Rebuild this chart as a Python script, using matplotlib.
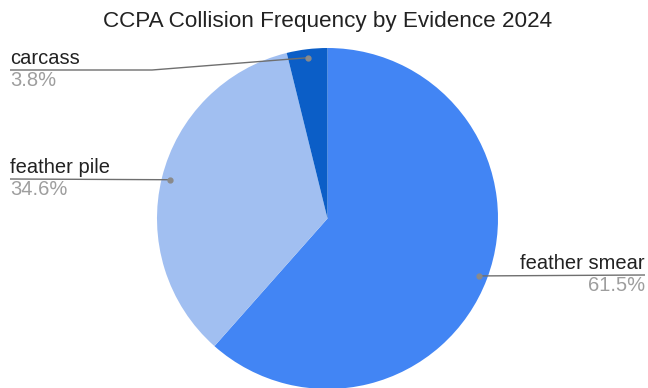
import numpy as np
import matplotlib
matplotlib.use("Agg")
import matplotlib.pyplot as plt

# ── Données ───────────────────────────────────────────────────────────────────
categories = ["feather smear", "feather pile", "carcass"]
counts = [16, 9, 1]
colors = ["#4285F4", "#A1BFF1", "#0B5EC7"]

W, H = 648, 388
CENTER = (327.5, H - 218.5)
RADIUS = 170.5

plt.rcParams["font.family"] = ["Liberation Sans", "DejaVu Sans"]

fig = plt.figure(figsize=(W / 100, H / 100), dpi=100)
ax = fig.add_axes([0, 0, 1, 1])

wedges, _ = ax.pie(
    counts, colors=colors, startangle=90, counterclock=False,
    center=CENTER, radius=RADIUS, frame=True,
    wedgeprops=dict(linewidth=0),
)
ax.set_xlim(0, W)
ax.set_ylim(0, H)
ax.set_aspect("equal")
ax.axis("off")

total = sum(counts)
pcts = [100 * c / total for c in counts]

# position des étiquettes (x du texte, y pixel du trait, alignement, coude)
label_layout = {
    "feather smear": dict(x=645, y=275, ha="right", elbow=None),
    "feather pile": dict(x=10, y=179, ha="left", elbow=None),
    "carcass": dict(x=10, y=70, ha="left", elbow=152),
}

line_color = "#6f6f6f"
for wedge, name, pct in zip(wedges, categories, pcts):
    mid = np.deg2rad((wedge.theta1 + wedge.theta2) / 2)
    px = CENTER[0] + 0.95 * RADIUS * np.cos(mid)
    py = CENTER[1] + 0.95 * RADIUS * np.sin(mid)
    lay = label_layout[name]
    ly = H - lay["y"]
    if lay["elbow"] is not None:
        xs = [lay["x"], lay["elbow"], px]
        ys = [ly, ly, py]
    else:
        xs = [lay["x"], px]
        ys = [ly, py]
    ax.plot(xs, ys, color=line_color, linewidth=1.0, solid_capstyle="butt")
    ax.plot(px, py, "o", color="#8a8a8a", markersize=3.5)
    ax.text(lay["x"], ly + 2, name, ha=lay["ha"], va="bottom",
            fontsize=14.5, color="#222222")
    ax.text(lay["x"], ly - 1, f"{pct:.1f}%", ha=lay["ha"], va="top",
            fontsize=14.5, color="#9e9e9e")

fig.text(327.5 / W, 1 - 21 / H, "CCPA Collision Frequency by Evidence 2024",
         ha="center", va="center", fontsize=16.2, color="#222222")

fig.savefig("out.png", dpi=100, facecolor="white")
plt.close(fig)
